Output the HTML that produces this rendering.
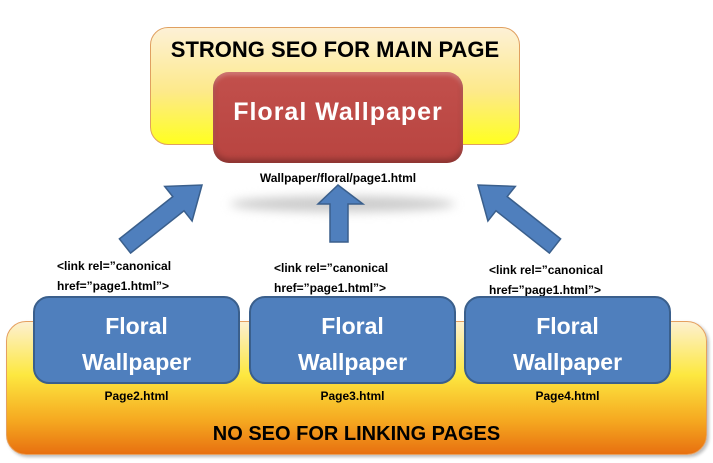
<!DOCTYPE html>
<html><head><style>
body{margin:0;width:713px;height:463px;background:#fff;position:relative;overflow:hidden;font-family:"Liberation Sans",sans-serif}
.a{position:absolute}
.top{left:150px;top:27px;width:370px;height:118px;border:1px solid #e0a060;border-radius:18px;background:linear-gradient(#fdf1d6,#fde98a 55%,#ffff20);box-sizing:border-box}
.bot{left:6px;top:321px;width:701px;height:134px;border:1px solid #e5a060;border-radius:20px;background:linear-gradient(#fdf0d0 0%,#fde840 40%,#f5a820 75%,#e87010);box-sizing:border-box;box-shadow:2px 2px 3px #bbb}
.red{left:213px;top:72px;width:250px;height:91px;border-radius:16px;background:linear-gradient(#c2504c,#b84440);box-shadow:inset 0 -4px 6px rgba(0,0,0,.25),inset 0 3px 4px rgba(255,255,255,.25);color:#fff;font-weight:bold;font-size:25px;letter-spacing:1px;text-align:center;line-height:80px}
.blue{width:207px;height:88px;top:296px;border:2px solid #3a5f8c;border-radius:16px;background:#4f7fbd;box-sizing:border-box;color:#fff;font-weight:bold;font-size:23px;text-align:center;line-height:36px;padding-top:10px}
.t{font-weight:bold;color:#000}
.s{font-size:12px;font-weight:bold;line-height:20px}
</style></head><body>
<div class="a top"></div>
<div class="a t" style="left:150px;top:37px;width:370px;text-align:center;font-size:22px">STRONG SEO FOR MAIN PAGE</div>
<div class="a" style="left:230px;top:196px;width:225px;height:16px;border-radius:50%;background:#ccc;filter:blur(5px)"></div>
<div class="a red">Floral Wallpaper</div>
<div class="a s" style="left:213px;top:168px;width:250px;text-align:center">Wallpaper/floral/page1.html</div>
<svg class="a" style="left:0;top:0" width="713" height="463">
<g fill="#4f7fbd" stroke="#3a5f8c" stroke-width="1.5">
<polygon points="119.4,238.9 172.8,196.6 164.7,186.4 202,185 192.1,221 184,210.8 130.6,253.1"/>
<polygon points="330,242 348,242 348,204 363,204 338,185 318,204 330,204"/>
<polygon points="560.6,238.9 507.2,196.6 515.3,186.4 478,185 487.9,221 496,210.8 549.4,253.1"/>
</g></svg>
<div class="a bot"></div>
<div class="a t" style="left:6px;top:423px;width:701px;text-align:center;font-size:20px">NO SEO FOR LINKING PAGES</div>
<div class="a s" style="left:57px;top:256px">&lt;link rel=”canonical<br>href=”page1.html”&gt;</div>
<div class="a s" style="left:274px;top:258px">&lt;link rel=”canonical<br>href=”page1.html”&gt;</div>
<div class="a s" style="left:489px;top:260px">&lt;link rel=”canonical<br>href=”page1.html”&gt;</div>
<div class="a blue" style="left:33px">Floral<br>Wallpaper</div>
<div class="a blue" style="left:249px">Floral<br>Wallpaper</div>
<div class="a blue" style="left:464px">Floral<br>Wallpaper</div>
<div class="a s" style="left:33px;top:386px;width:207px;text-align:center">Page2.html</div>
<div class="a s" style="left:249px;top:386px;width:207px;text-align:center">Page3.html</div>
<div class="a s" style="left:464px;top:386px;width:207px;text-align:center">Page4.html</div>
</body></html>
